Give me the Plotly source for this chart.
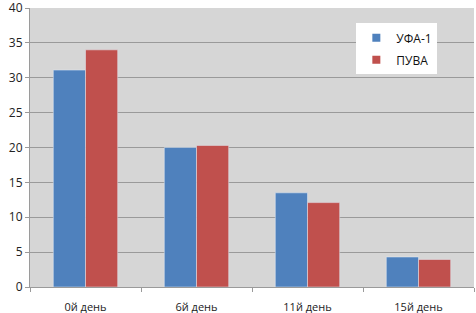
import plotly.graph_objects as go

categories = ["0й день", "6й день", "11й день", "15й день"]
ufa = [31.1, 20.0, 13.5, 4.3]
puva = [34.0, 20.3, 12.1, 3.95]
y_ticks = [0, 5, 10, 15, 20, 25, 30, 35, 40]
colors = ["#4f81bd", "#c0504d"]
names = ["УФА-1", "ПУВА"]

fig = go.Figure()
for vals, name, col in zip([ufa, puva], names, colors):
    fig.add_trace(go.Bar(x=categories, y=vals, name=name, marker_color=col,
                         showlegend=False))
# legend-only markers (small squares like the original)
for name, col in zip(names, colors):
    fig.add_trace(go.Scatter(x=[None], y=[None], mode="markers", name=name,
                             legendgroup=name,
                             marker=dict(symbol="square", size=8, color=col)))

fig.update_layout(
    width=476, height=313,
    margin=dict(l=30, r=2, t=8, b=26, autoexpand=False),
    paper_bgcolor="white",
    plot_bgcolor="#d6d6d6",
    barmode="group",
    bargap=0.42,
    bargroupgap=0,
    font=dict(family="Open Sans", size=12, color="#222"),
    legend=dict(x=0.735, y=0.945, xanchor="left", yanchor="top",
                bgcolor="white", font=dict(size=12, color="#111"),
                itemwidth=30, traceorder="grouped", tracegroupgap=3),
    showlegend=True,
)
fig.update_yaxes(range=[0, 40], tickvals=y_ticks, gridcolor="#9a9a9a", gridwidth=1,
                 showline=True, linecolor="#9a9a9a", ticks="outside", ticklen=4,
                 tickcolor="#9a9a9a", zeroline=False, automargin=False,
                 ticklabeloverflow="allow", tickfont=dict(size=12))
fig.update_xaxes(showline=True, linecolor="#9a9a9a", ticks="outside", ticklen=4,
                 tickcolor="#9a9a9a", tickson="boundaries", automargin=False,
                 ticklabelstandoff=10, ticklabeloverflow="allow", tickfont=dict(size=11))

fig.write_html("out.html", config={"displayModeBar": False},
               post_script="document.body.style.margin='0px';document.body.style.padding='0px';")
